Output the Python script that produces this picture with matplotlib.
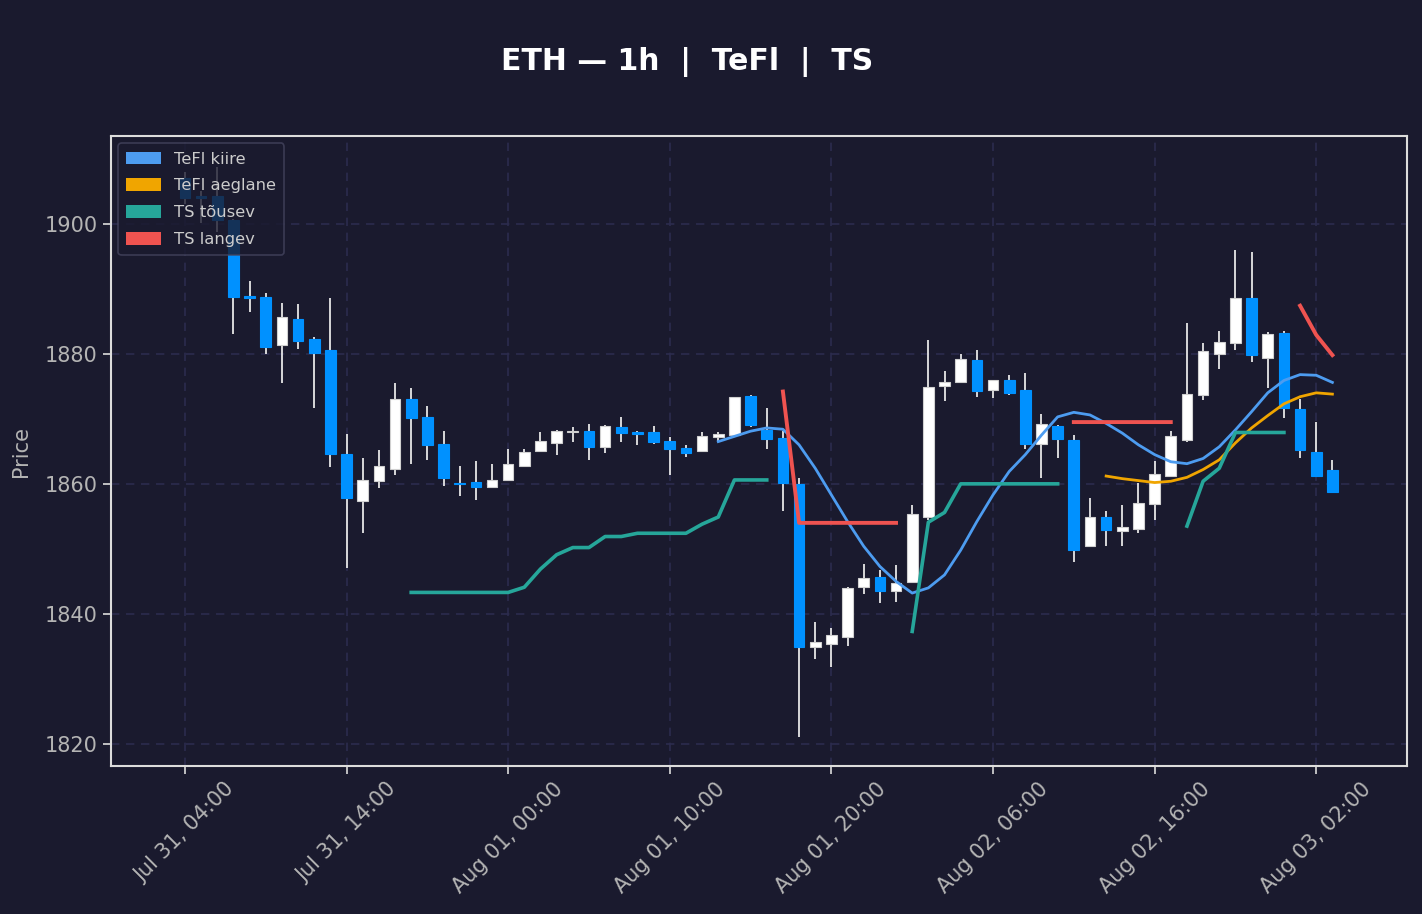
import numpy as np
import pandas as pd
import matplotlib
matplotlib.use("Agg")
import matplotlib.pyplot as plt
import matplotlib.dates as mdates
from matplotlib.patches import Patch

# ---------------- data ----------------
start = pd.Timestamp("2023-07-31 04:00")
times = pd.date_range(start, periods=72, freq="h")

opens = [1907.0, 1904.2, 1904.3, 1900.6, 1888.9, 1888.7, 1881.4, 1885.3, 1882.3, 1880.6,
         1864.6, 1857.3, 1860.4, 1862.3, 1873.0, 1870.3, 1866.1, 1860.2, 1860.3, 1859.5,
         1860.6, 1862.8, 1865.0, 1866.3, 1867.9, 1868.1, 1865.6, 1868.7, 1868.0, 1867.9,
         1866.6, 1865.5, 1865.0, 1867.2, 1867.5, 1873.5, 1868.3, 1867.0, 1859.9, 1834.9,
         1835.3, 1836.5, 1844.1, 1845.7, 1843.5, 1844.9, 1854.9, 1875.0, 1875.6, 1879.0,
         1874.4, 1875.9, 1874.4, 1866.1, 1868.9, 1866.7, 1850.5, 1854.9, 1852.8, 1853.0,
         1856.9, 1861.2, 1866.7, 1873.6, 1879.9, 1881.6, 1888.6, 1879.4, 1883.2, 1871.5,
         1864.9, 1862.2]
highs = [1908.0, 1905.0, 1908.8, 1900.8, 1891.2, 1889.4, 1887.8, 1887.7, 1882.6, 1888.6,
         1867.7, 1864.0, 1865.2, 1875.5, 1874.7, 1872.0, 1868.2, 1862.8, 1863.5, 1863.1,
         1865.3, 1865.3, 1868.0, 1868.3, 1868.8, 1869.2, 1869.0, 1870.3, 1868.1, 1868.9,
         1867.2, 1866.0, 1868.0, 1868.0, 1873.4, 1873.7, 1871.6, 1868.1, 1860.9, 1838.7,
         1837.8, 1844.1, 1847.6, 1846.7, 1847.5, 1856.8, 1882.2, 1877.4, 1880.0, 1880.6,
         1876.0, 1876.8, 1877.0, 1870.7, 1869.0, 1867.5, 1857.8, 1855.8, 1856.8, 1860.1,
         1863.5, 1868.1, 1884.7, 1881.6, 1883.5, 1896.0, 1895.6, 1883.3, 1883.5, 1873.0,
         1869.5, 1863.7]
lows = [1903.0, 1900.1, 1898.8, 1883.0, 1886.4, 1880.0, 1875.5, 1880.8, 1871.6, 1862.6,
        1847.1, 1852.4, 1859.4, 1861.4, 1863.1, 1863.7, 1859.6, 1858.1, 1857.5, 1859.5,
        1860.5, 1862.8, 1865.0, 1864.5, 1866.5, 1863.6, 1864.7, 1866.5, 1865.9, 1866.1,
        1861.3, 1864.1, 1865.0, 1866.5, 1867.4, 1868.8, 1865.4, 1855.9, 1821.0, 1833.1,
        1831.8, 1835.0, 1843.1, 1841.6, 1841.9, 1844.8, 1854.4, 1872.8, 1875.5, 1873.3,
        1873.2, 1873.7, 1865.3, 1860.9, 1864.0, 1848.0, 1850.4, 1850.5, 1850.4, 1852.4,
        1854.4, 1861.0, 1866.5, 1872.9, 1877.7, 1880.6, 1878.8, 1874.8, 1870.1, 1864.0,
        1861.0, 1858.7]
closes = [1904.0, 1904.0, 1900.6, 1888.7, 1888.6, 1881.1, 1885.6, 1881.9, 1880.2, 1864.6,
          1857.8, 1860.6, 1862.8, 1873.0, 1870.1, 1866.0, 1860.9, 1860.0, 1859.5, 1860.6,
          1863.0, 1864.9, 1866.6, 1868.2, 1868.1, 1865.6, 1868.9, 1867.8, 1867.6, 1866.4,
          1865.3, 1864.7, 1867.3, 1867.6, 1873.3, 1869.1, 1866.9, 1860.1, 1834.9, 1835.6,
          1836.7, 1844.0, 1845.5, 1843.5, 1844.7, 1855.3, 1874.9, 1875.6, 1879.2, 1874.3,
          1875.9, 1874.0, 1866.1, 1869.2, 1866.9, 1849.8, 1854.9, 1852.9, 1853.3, 1857.0,
          1861.5, 1867.4, 1873.8, 1880.5, 1881.8, 1888.6, 1879.8, 1883.0, 1871.7, 1865.2,
          1861.2, 1858.8]

nan = np.nan
tefl_kiire = [nan] * 33 + [
    1866.5, 1867.3, 1868.1, 1868.6, 1868.4, 1866.0, 1862.4, 1858.3, 1854.2, 1850.4,
    1847.3, 1845.0, 1843.2, 1844.0, 1846.0, 1849.8, 1854.2, 1858.3, 1861.9, 1864.5,
    1867.5, 1870.3, 1871.0, 1870.6, 1869.3, 1867.8, 1866.0, 1864.5, 1863.4, 1863.1,
    1863.9, 1865.7, 1868.3, 1871.1, 1874.0, 1875.9, 1876.8, 1876.7, 1875.6]
tefl_aeglane = [nan] * 57 + [
    1861.2, 1860.8, 1860.5, 1860.2, 1860.4, 1861.0, 1862.2, 1863.7, 1866.3, 1868.6,
    1870.5, 1872.3, 1873.4, 1874.0, 1873.8]
ts_tousev = [nan] * 14 + [
    1843.3, 1843.3, 1843.3, 1843.3, 1843.3, 1843.3, 1843.3, 1844.1, 1846.9, 1849.1,
    1850.2, 1850.2, 1851.9, 1851.9, 1852.4, 1852.4, 1852.4, 1852.4, 1853.8, 1854.9,
    1860.6, 1860.6, 1860.6] + [nan] * 8 + [
    1837.3, 1854.1, 1855.6, 1860.0, 1860.0, 1860.0, 1860.0, 1860.0, 1860.0, 1860.0] + [nan] * 7 + [
    1853.5, 1860.4, 1862.4, 1867.9, 1867.9, 1867.9, 1867.9] + [nan] * 3
ts_langev = [nan] * 37 + [
    1874.2, 1854.0, 1854.0, 1854.0, 1854.0, 1854.0, 1854.0, 1854.0] + [nan] * 10 + [
    1869.5, 1869.5, 1869.5, 1869.5, 1869.5, 1869.5, 1869.5] + [nan] * 7 + [
    1887.4, 1882.9, 1879.8]

title = "ETH — 1h  |  TeFl  |  TS"

# ---------------- style ----------------
BG = "#1a1a2e"
GRID = "#2c2c4e"
TXT = "#b4b4b4"
SPINE = "#dcdcdc"
UP = "#ffffff"
DOWN = "#0091ff"
C_KIIRE = "#4d9cf0"
C_AEGL = "#f0a500"
C_TOUS = "#26a69a"
C_LANG = "#ef5350"

fig = plt.figure(figsize=(14.22, 9.14), dpi=100, facecolor=BG)
ax = fig.add_axes([0.078, 0.1619, 0.9115, 0.6893])
ax.set_facecolor(BG)

x = mdates.date2num(times.to_pydatetime())
o = np.array(opens); h = np.array(highs); l = np.array(lows); c = np.array(closes)
up = c >= o
colors = np.where(up, UP, DOWN)
w = 0.66 / 24

ax.vlines(x, l, h, colors="#e6e6e6", linewidth=1.3, zorder=2)
ax.bar(x, np.abs(c - o), bottom=np.minimum(o, c), width=w, color=colors,
       edgecolor=np.where(up, "#d0d0d0", DOWN), linewidth=0.8, zorder=3)

ax.plot(x, tefl_kiire, color=C_KIIRE, lw=2.0, zorder=4)
ax.plot(x, tefl_aeglane, color=C_AEGL, lw=2.0, zorder=4)
ax.plot(x, ts_tousev, color=C_TOUS, lw=2.6, zorder=4)
ax.plot(x, ts_langev, color=C_LANG, lw=2.8, zorder=4)

x0 = mdates.date2num(start.to_pydatetime())
ax.set_xlim(x0 - 4.58 / 24, x0 + 75.62 / 24)
ax.set_ylim(1816.6, 1913.5)

ax.set_yticks([1820, 1840, 1860, 1880, 1900])
ax.set_xticks(x[::10])
ax.xaxis.set_major_formatter(mdates.DateFormatter("%b %d, %H:%M"))
for lab in ax.get_xticklabels():
    lab.set_rotation(45)
    lab.set_ha("center")

ax.tick_params(colors=SPINE, labelcolor=TXT, labelsize=15, length=6, width=1.2)
for s in ax.spines.values():
    s.set_color(SPINE)
    s.set_linewidth(1.5)
ax.grid(True, color=GRID, linestyle=(0, (5, 4)), linewidth=1.2, zorder=0)
ax.set_axisbelow(True)
ax.set_ylabel("Price", color=TXT, fontsize=15, labelpad=10)

handles = [Patch(facecolor=C_KIIRE, label="TeFl kiire"),
           Patch(facecolor=C_AEGL, label="TeFl aeglane"),
           Patch(facecolor=C_TOUS, label="TS tõusev"),
           Patch(facecolor=C_LANG, label="TS langev")]
leg = ax.legend(handles=handles, loc="upper left", fontsize=11.8, frameon=True,
                facecolor=BG, edgecolor="#44445e", framealpha=0.8, labelcolor="#cccccc",
                handlelength=2.1, handleheight=0.8, borderpad=0.5, labelspacing=0.72,
                handletextpad=0.8, borderaxespad=0.45)
leg.get_frame().set_linewidth(1.2)
leg.set_zorder(10)

fig.text(687 / 1422, 1 - 62 / 914, title, color="white", fontsize=21.5, fontweight="bold",
         ha="center", va="center")

fig.savefig("out.png", dpi=100, facecolor=BG)
